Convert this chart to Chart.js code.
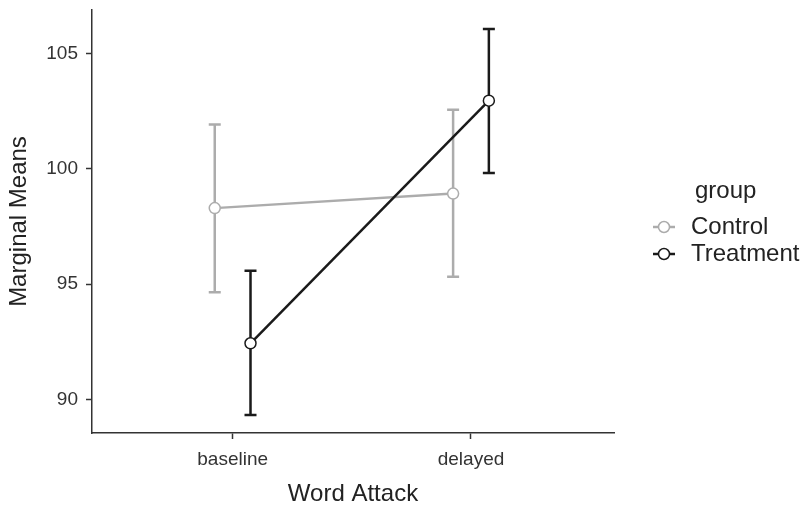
<!DOCTYPE html>
<html>
<head>
<meta charset="utf-8">
<script src="https://cdn.jsdelivr.net/npm/chart.js@4"></script>
<style>
  html, body { margin: 0; padding: 0; background: #fff; }
  #wrap { width: 806px; height: 507px; }
</style>
</head>
<body>
<div id="wrap"><canvas id="chart" width="806" height="507"></canvas></div>
<script>
// data
const categories = ['baseline', 'delayed'];
const groups = ['Control', 'Treatment'];

const controlMeans = [98.29, 98.92];
const controlLower = [94.64, 95.31];
const controlUpper = [101.92, 102.56];

const treatmentMeans = [92.43, 102.95];
const treatmentLower = [89.32, 99.81];
const treatmentUpper = [95.58, 106.06];

const yTicks = [90, 95, 100, 105];

const colors = ['#acacac', '#1a1a1a'];
const dodge = [-0.075, 0.075];
const FONT = '"Liberation Sans", Arial, Helvetica, sans-serif';

const seriesMeans = [controlMeans, treatmentMeans];
const seriesLower = [controlLower, treatmentLower];
const seriesUpper = [controlUpper, treatmentUpper];

const datasets = groups.map((g, s) => ({
  label: g,
  data: categories.map((c, i) => ({ x: i + dodge[s], y: seriesMeans[s][i] })),
  lower: seriesLower[s],
  upper: seriesUpper[s],
  borderColor: colors[s],
  backgroundColor: '#ffffff',
  borderWidth: 2.5,
  pointRadius: 5.5,
  pointBorderWidth: 1.5,
  pointBackgroundColor: '#ffffff',
  pointBorderColor: colors[s],
  showLine: true,
  tension: 0,
  order: groups.length - s
}));

// error bars, drawn under each line
const errorBars = {
  id: 'errorBars',
  beforeDatasetDraw(chart, args) {
    const ds = chart.data.datasets[args.index];
    const xs = chart.scales.x, ys = chart.scales.y;
    const ctx = chart.ctx;
    ctx.save();
    ctx.strokeStyle = ds.borderColor;
    ctx.lineWidth = 2.5;
    ds.data.forEach((p, i) => {
      const x = xs.getPixelForValue(p.x);
      const yl = ys.getPixelForValue(ds.lower[i]);
      const yu = ys.getPixelForValue(ds.upper[i]);
      ctx.beginPath();
      ctx.moveTo(x, yl); ctx.lineTo(x, yu);
      ctx.moveTo(x - 6, yl); ctx.lineTo(x + 6, yl);
      ctx.moveTo(x - 6, yu); ctx.lineTo(x + 6, yu);
      ctx.stroke();
    });
    ctx.restore();
  }
};

// legend like the ggplot one on the right
const sideLegend = {
  id: 'sideLegend',
  afterDraw(chart) {
    const ctx = chart.ctx;
    ctx.save();
    ctx.font = '24px ' + FONT;
    ctx.fillStyle = '#222';
    ctx.textBaseline = 'middle';
    ctx.textAlign = 'left';
    ctx.fillText('group', 695, 191);
    const rows = [227, 254];
    groups.forEach((g, s) => {
      const y = rows[s];
      ctx.strokeStyle = colors[s];
      ctx.lineWidth = 2.5;
      ctx.beginPath();
      ctx.moveTo(653, y); ctx.lineTo(675, y);
      ctx.stroke();
      ctx.beginPath();
      ctx.arc(664, y, 5.5, 0, Math.PI * 2);
      ctx.fillStyle = '#fff';
      ctx.fill();
      ctx.lineWidth = 1.5;
      ctx.stroke();
      ctx.fillStyle = '#222';
      ctx.fillText(g, 691, y);
    });
    ctx.restore();
  }
};

new Chart(document.getElementById('chart'), {
  type: 'scatter',
  data: { datasets },
  plugins: [errorBars, sideLegend],
  options: {
    responsive: false,
    animation: false,
    layout: { padding: { top: 10, right: 192, left: 0, bottom: 0 } },
    plugins: {
      legend: { display: false },
      tooltip: { enabled: false }
    },
    scales: {
      x: {
        type: 'linear',
        min: -0.59,
        max: 1.6,
        afterBuildTicks: scale => { scale.ticks = categories.map((c, i) => ({ value: i })); },
        afterFit: scale => { scale.height = 74; scale.paddingLeft = 0; scale.paddingRight = 0; },
        ticks: {
          callback: v => categories[v],
          color: '#333',
          font: { family: FONT, size: 19 },
          padding: 9,
          maxRotation: 0
        },
        grid: { drawOnChartArea: false, drawTicks: true, tickLength: 6, tickColor: '#333', tickWidth: 1.5 },
        border: { display: true, color: '#333', width: 1.5 },
        title: {
          display: true,
          text: 'Word Attack',
          color: '#222',
          font: { family: FONT, size: 24, lineHeight: 1.05 },
          padding: { top: 0, bottom: 0 }
        }
      },
      y: {
        min: 88.54,
        max: 106.88,
        afterBuildTicks: scale => { scale.ticks = yTicks.map(v => ({ value: v })); },
        afterFit: scale => { scale.width = 92; scale.paddingTop = 0; scale.paddingBottom = 0; },
        ticks: {
          color: '#333',
          font: { family: FONT, size: 19, lineHeight: 1 },
          padding: 8
        },
        grid: { drawOnChartArea: false, drawTicks: true, tickLength: 6, tickColor: '#333', tickWidth: 1.5 },
        border: { display: true, color: '#333', width: 1.5 },
        title: {
          display: true,
          text: 'Marginal Means',
          color: '#222',
          font: { family: FONT, size: 24 },
          padding: { top: 5, bottom: 0 }
        }
      }
    }
  }
});
</script>
</body>
</html>
